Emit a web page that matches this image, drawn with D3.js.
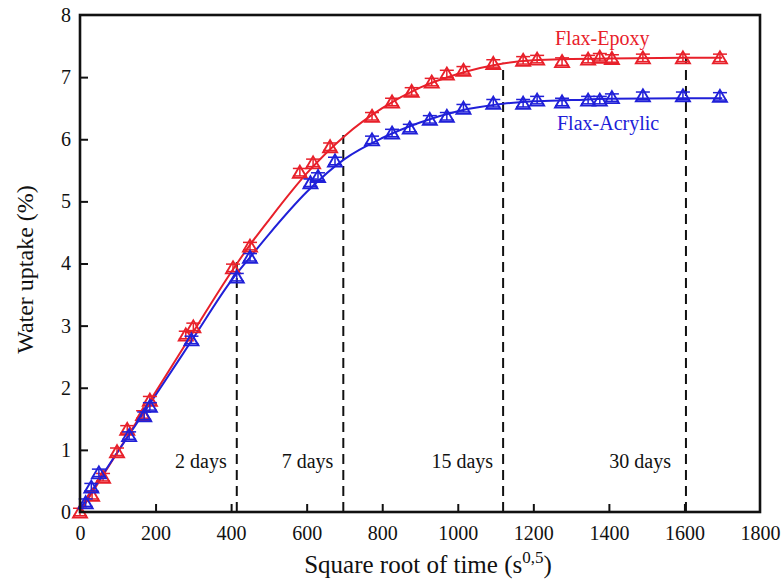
<!DOCTYPE html>
<html><head><meta charset="utf-8">
<script src="https://cdn.jsdelivr.net/npm/d3@7"></script>
<style>body{margin:0;background:#fff}</style>
</head><body>
<svg id="chart" width="781" height="580"></svg>
<script>
// ---- data ----
const epoxyX = [0, 32, 61, 98, 125, 167, 185, 280, 300, 405, 450, 582, 617, 662, 773, 826, 878, 931, 971, 1015, 1094, 1173, 1210, 1276, 1345, 1376, 1408, 1490, 1596, 1694];
const epoxyY = [0, 0.27, 0.56, 0.97, 1.33, 1.57, 1.8, 2.85, 2.98, 3.93, 4.28, 5.47, 5.62, 5.88, 6.37, 6.6, 6.77, 6.92, 7.05, 7.11, 7.22, 7.27, 7.29, 7.25, 7.29, 7.32, 7.3, 7.31, 7.31, 7.31];
const acrylicX = [15, 30, 50, 130, 170, 185, 295, 415, 450, 610, 630, 675, 773, 826, 873, 926, 971, 1015, 1094, 1173, 1210, 1276, 1345, 1376, 1408, 1490, 1596, 1694];
const acrylicY = [0.15, 0.4, 0.63, 1.23, 1.55, 1.7, 2.77, 3.78, 4.1, 5.3, 5.4, 5.65, 5.99, 6.1, 6.18, 6.32, 6.37, 6.5, 6.58, 6.58, 6.63, 6.6, 6.63, 6.63, 6.67, 6.7, 6.7, 6.69];
// fitted curves
const epoxyFitX = [0, 100, 200, 300, 400, 450, 500, 600, 700, 800, 900, 1000, 1120, 1200, 1300, 1400, 1600, 1700];
const epoxyFitY = [0, 0.97, 1.93, 2.9, 3.86, 4.3, 4.7, 5.45, 6.05, 6.5, 6.83, 7.05, 7.22, 7.27, 7.29, 7.3, 7.31, 7.31];
const acrylicFitX = [0, 100, 200, 300, 400, 450, 500, 600, 700, 800, 900, 1000, 1120, 1200, 1300, 1400, 1600, 1700];
const acrylicFitY = [0.05, 0.97, 1.88, 2.8, 3.72, 4.1, 4.47, 5.15, 5.68, 6.02, 6.27, 6.45, 6.57, 6.61, 6.63, 6.65, 6.66, 6.66];
const errEpoxy = 0.06, errAcrylic = 0.06;
const xTicks = [0, 200, 400, 600, 800, 1000, 1200, 1400, 1600, 1800];
const yTicks = [0, 1, 2, 3, 4, 5, 6, 7, 8];
const dayX = [415, 697, 1120, 1604];
const dayTop = [4.05, 6.07, 7.23, 7.31];
const dayLabels = ["2 days", "7 days", "15 days", "30 days"];
const seriesNames = ["Flax-Epoxy", "Flax-Acrylic"];

// ---- drawing ----
const svg = d3.select("#chart");
const m = {left: 80, right: 21, top: 15, bottom: 68};
const W = 781, H = 580;
const x = d3.scaleLinear().domain([0, 1800]).range([m.left, W - m.right]);
const y = d3.scaleLinear().domain([0, 8]).range([H - m.bottom, m.top]);
const red = "#e8202a", blue = "#2020d8";
const font = "'Liberation Serif','Times New Roman',serif";

// dashed day lines
dayX.forEach((d, i) => {
  svg.append("line").attr("x1", x(d)).attr("x2", x(d))
    .attr("y1", y(0)).attr("y2", y(dayTop[i]))
    .attr("stroke", "#111").attr("stroke-width", 2).attr("stroke-dasharray", "10,6");
});
dayX.forEach((d, i) => {
  svg.append("text").attr("x", x(d) - (i === 3 ? 15 : 10)).attr("y", 468)
    .attr("text-anchor", "end").attr("font-family", font).attr("font-size", 20)
    .attr("fill", "#111").text(dayLabels[i]);
});

// fit lines
const line = d3.line().x(d => x(d[0])).y(d => y(d[1])).curve(d3.curveMonotoneX);
svg.append("path").datum(epoxyFitX.map((v, i) => [v, epoxyFitY[i]]))
  .attr("d", line).attr("fill", "none").attr("stroke", red).attr("stroke-width", 2);
svg.append("path").datum(acrylicFitX.map((v, i) => [v, acrylicFitY[i]]))
  .attr("d", line).attr("fill", "none").attr("stroke", blue).attr("stroke-width", 2);

// markers
function drawPoints(xs, ys, err, color) {
  const g = svg.append("g");
  xs.forEach((v, i) => {
    const cx = x(v), cy = y(ys[i]);
    const e1 = y(ys[i] + err), e2 = y(ys[i] - err);
    g.append("line").attr("x1", cx).attr("x2", cx).attr("y1", e1).attr("y2", e2).attr("stroke", color).attr("stroke-width", 1.5);
    g.append("line").attr("x1", cx - 7).attr("x2", cx + 7).attr("y1", e1).attr("y2", e1).attr("stroke", color).attr("stroke-width", 1.5);
    g.append("line").attr("x1", cx - 7).attr("x2", cx + 7).attr("y1", e2).attr("y2", e2).attr("stroke", color).attr("stroke-width", 1.5);
    g.append("path").attr("d", `M${cx},${cy - 6.5}L${cx + 7},${cy + 5.5}L${cx - 7},${cy + 5.5}Z`)
      .attr("fill", "none").attr("stroke", color).attr("stroke-width", 1.9);
  });
}
drawPoints(epoxyX, epoxyY, errEpoxy, red);
drawPoints(acrylicX, acrylicY, errAcrylic, blue);

// axes frame
const xAxis = d3.axisBottom(x).tickValues(xTicks).tickSize(-8).tickPadding(14).tickFormat(d3.format("d"));
const yAxis = d3.axisLeft(y).tickValues(yTicks).tickSize(-8).tickPadding(9).tickFormat(d3.format("d"));
const gx = svg.append("g").attr("transform", `translate(0,${y(0)})`).call(xAxis);
const gy = svg.append("g").attr("transform", `translate(${x(0)},0)`).call(yAxis);
[gx, gy].forEach(g => {
  g.select(".domain").remove();
  g.selectAll(".tick line").attr("stroke", "#111").attr("stroke-width", 2);
  g.selectAll(".tick text").attr("font-family", font).attr("font-size", 20).attr("fill", "#111");
});
gy.selectAll(".tick line").filter(d => d === 0 || d === 8).remove();
gx.selectAll(".tick line").filter(d => d === 0 || d === 1800).remove();
svg.append("rect").attr("x", x(0)).attr("y", y(8)).attr("width", x(1800) - x(0)).attr("height", y(0) - y(8))
  .attr("fill", "none").attr("stroke", "#111").attr("stroke-width", 2.6);

// axis titles
svg.append("text").attr("x", 428).attr("y", 573).attr("text-anchor", "middle")
  .attr("font-family", font).attr("font-size", 25).attr("fill", "#111")
  .html('Square root of time (s<tspan dy="-10" font-size="17">0,5</tspan><tspan dy="10">)</tspan>');
svg.append("text").attr("transform", `translate(33,${(y(0) + y(8)) / 2 + 6}) rotate(-90)`)
  .attr("text-anchor", "middle").attr("font-family", font).attr("font-size", 24).attr("fill", "#111")
  .text("Water uptake (%)");

// series labels
svg.append("text").attr("x", 555).attr("y", 45).attr("font-family", font).attr("font-size", 20).attr("fill", red).text(seriesNames[0]);
svg.append("text").attr("x", 557).attr("y", 130).attr("font-family", font).attr("font-size", 20).attr("fill", blue).text(seriesNames[1]);
</script>
</body></html>
